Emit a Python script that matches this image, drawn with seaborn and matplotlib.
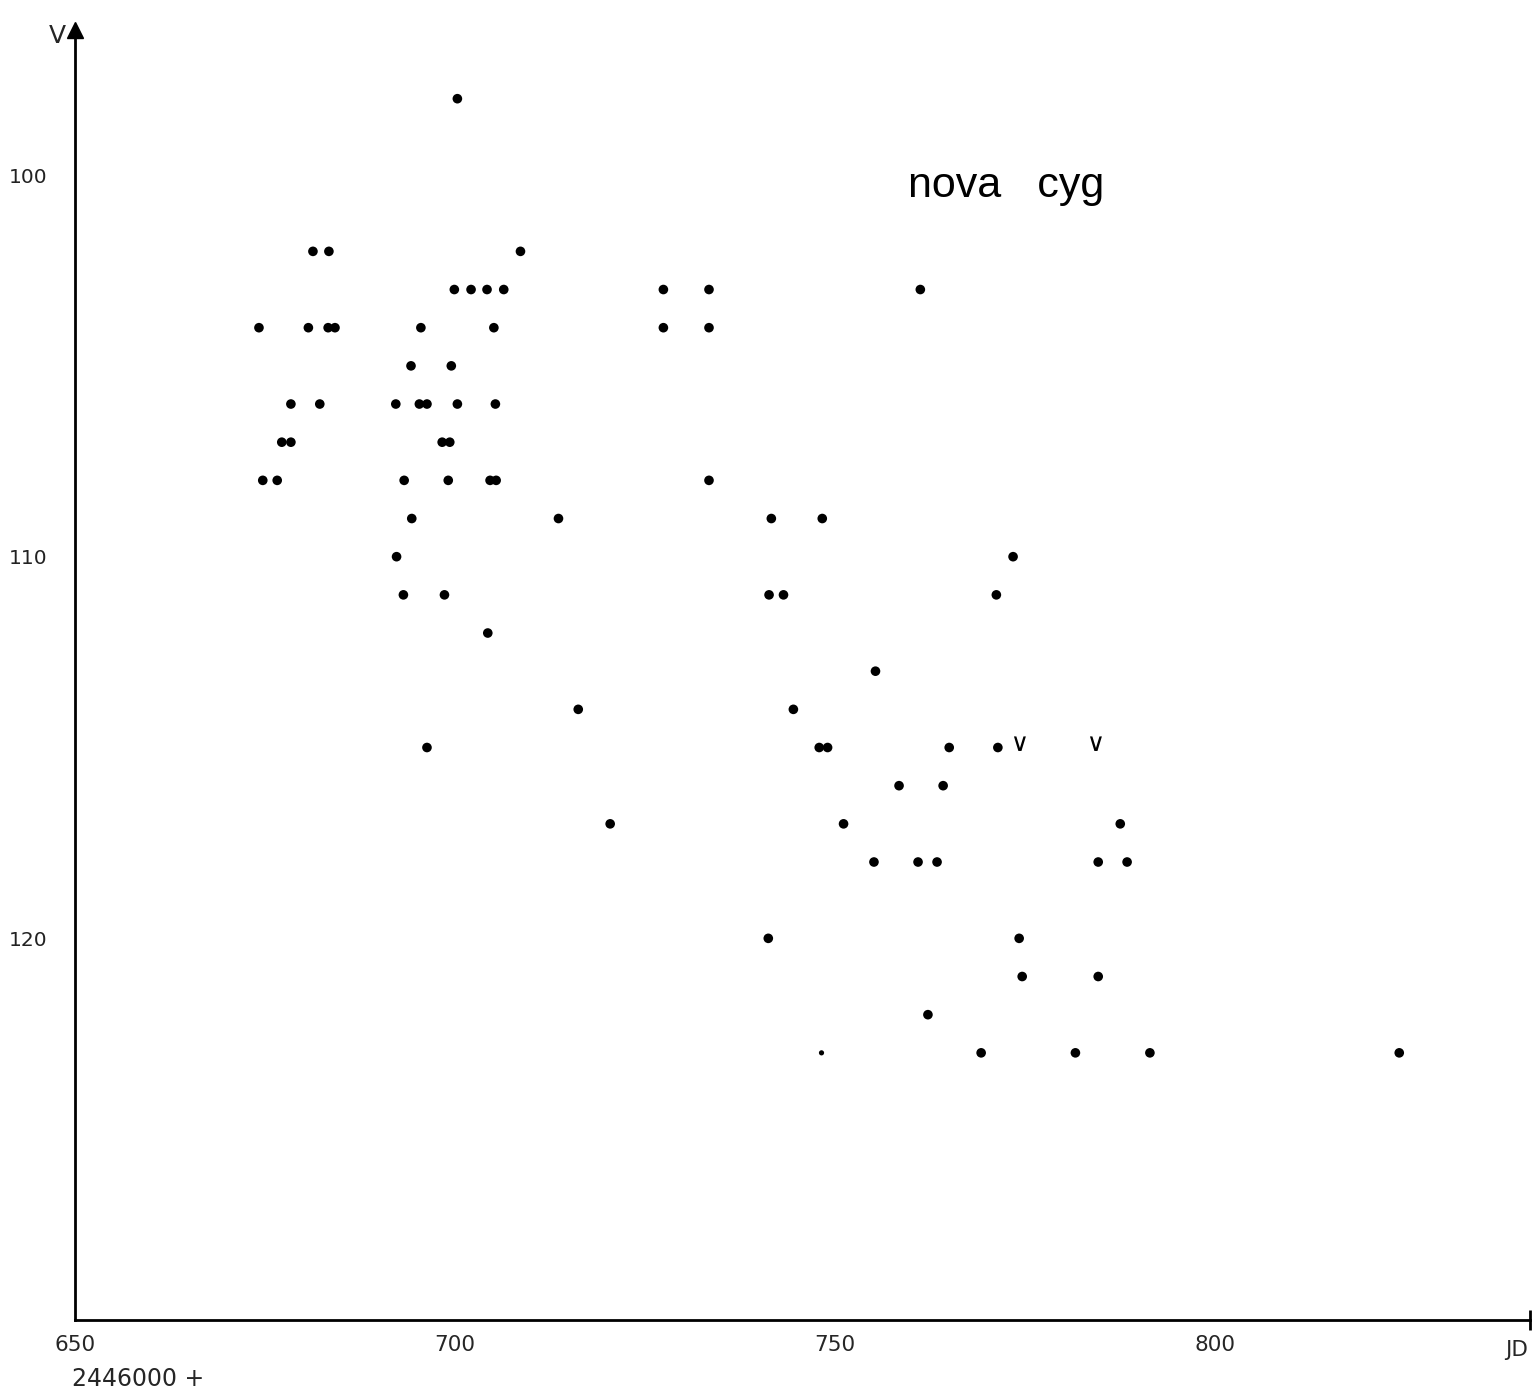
import matplotlib
matplotlib.use("Agg")
import matplotlib.pyplot as plt
import seaborn as sns
import pandas as pd

# ---- data (JD - 2446000, visual magnitude) ----
jd = [700.3,
      681.3, 683.4, 708.6,
      699.9, 702.1, 704.2, 706.4, 727.4, 733.4, 761.2,
      674.2, 680.7, 683.3, 684.2, 695.5, 705.1, 727.4, 733.4,
      694.2, 699.5,
      678.4, 682.2, 692.2, 695.3, 696.3, 700.3, 705.3,
      677.2, 678.4, 698.3, 699.3,
      674.7, 676.6, 693.3, 699.1, 704.6, 705.4, 733.4,
      694.3, 713.6, 741.6, 748.3,
      692.3, 773.4,
      693.2, 698.6, 741.3, 743.2, 771.2,
      704.3,
      755.3,
      716.2, 744.5,
      696.3, 747.9, 749.0, 765.0, 771.4,
      758.4, 764.2,
      720.4, 751.1, 787.5,
      755.1, 760.9, 763.4, 784.6, 788.4,
      741.2, 774.2,
      774.6, 784.6,
      762.2,
      769.2, 781.6, 791.4, 824.2]
vmag = [9.8,
        10.2, 10.2, 10.2,
        10.3, 10.3, 10.3, 10.3, 10.3, 10.3, 10.3,
        10.4, 10.4, 10.4, 10.4, 10.4, 10.4, 10.4, 10.4,
        10.5, 10.5,
        10.6, 10.6, 10.6, 10.6, 10.6, 10.6, 10.6,
        10.7, 10.7, 10.7, 10.7,
        10.8, 10.8, 10.8, 10.8, 10.8, 10.8, 10.8,
        10.9, 10.9, 10.9, 10.9,
        11.0, 11.0,
        11.1, 11.1, 11.1, 11.1, 11.1,
        11.2,
        11.3,
        11.4, 11.4,
        11.5, 11.5, 11.5, 11.5, 11.5,
        11.6, 11.6,
        11.7, 11.7, 11.7,
        11.8, 11.8, 11.8, 11.8, 11.8,
        12.0, 12.0,
        12.1, 12.1,
        12.2,
        12.3, 12.3, 12.3, 12.3]

faint_jd = [748.2]
faint_v = [12.3]

limit_jd = [774.3, 784.3]
limit_v = [11.49, 11.49]

x_ticks = [650, 700, 750, 800]
x_ticklabels = ["650", "700", "750", "800"]
y_ticks = [10.0, 11.0, 12.0]
y_ticklabels = ["100", "110", "120"]

df = pd.DataFrame({"JD": jd, "V": vmag})
df_faint = pd.DataFrame({"JD": faint_jd, "V": faint_v})
df_lim = pd.DataFrame({"JD": limit_jd, "V": limit_v})

sns.set_style("white")
plt.rcParams["font.family"] = ["DejaVu Sans"]

W, H = 1534, 1390
fig = plt.figure(figsize=(W / 100, H / 100), dpi=100)
ax = fig.add_axes([75 / W, 70 / H, 1455 / W, 1290 / H])

sns.scatterplot(data=df, x="JD", y="V", ax=ax, color="black", s=48,
                edgecolor="none", linewidth=0, legend=False)
sns.scatterplot(data=df_faint, x="JD", y="V", ax=ax, color="black", s=14,
                edgecolor="none", linewidth=0, legend=False)
sns.scatterplot(data=df_lim, x="JD", y="V", ax=ax, color="black", s=110,
                marker="$\\vee$", edgecolor="none", linewidth=0, legend=False)

ax.set_xlim(650, 841.4)
ax.set_ylim(13.0, 9.62)

for side in ["top", "right"]:
    ax.spines[side].set_visible(False)
for side in ["left", "bottom"]:
    ax.spines[side].set_linewidth(2.0)
    ax.spines[side].set_color("black")

ax.set_xticks(x_ticks)
ax.set_xticklabels(x_ticklabels, fontsize=15.5)
ax.set_yticks(y_ticks)
ax.set_yticklabels(y_ticklabels, fontsize=14.5, color="#222222")
ax.tick_params(axis="x", direction="in", length=5, width=1.5, pad=11)
ax.tick_params(axis="y", direction="in", length=5, width=1.5, pad=20)
ax.set_xlabel("")
ax.set_ylabel("")
ax.grid(False)

# axis arrow at top of V axis and end bar of JD axis
ax.plot([0], [1], marker="^", ms=12, color="black", transform=ax.transAxes,
        clip_on=False)
ax.plot([1], [0], marker="|", ms=14, mew=2, color="black",
        transform=ax.transAxes, clip_on=False)

ax.text(759.6, 10.058, "nova   cyg", fontsize=31, family="Liberation Sans",
        ha="left", va="baseline", color="black")

fig.text(1517 / W, 1 - 1350 / H, "JD", fontsize=15.5, ha="center", va="center")
fig.text(72 / W, 1 - 1379 / H, "2446000 +", fontsize=17, ha="left",
         va="center")
fig.text(57 / W, 1 - 36 / H, "V", fontsize=18, ha="center", va="center")

fig.savefig("out.png", dpi=100, facecolor="white")
